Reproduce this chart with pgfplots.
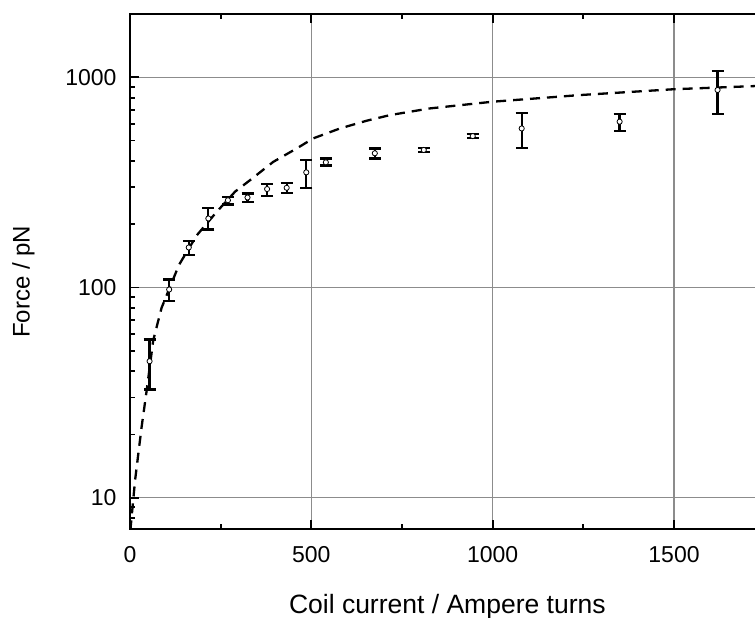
\documentclass[border=0pt]{standalone}
\usepackage{fontspec}
\setmainfont{Liberation Sans}
\usepackage{pgfplots}
\pgfplotsset{compat=1.18}
\begin{document}
\begin{tikzpicture}[x=1pt,y=1pt]
\path[use as bounding box] (0,0) rectangle (755,618);
\clip (0,0) rectangle (755,618);
\begin{axis}[
  at={(130pt,89pt)}, anchor=south west,
  scale only axis, width=634.7pt, height=515pt,
  xmin=0, xmax=1750, ymode=log, ymin=7.1, ymax=2000,
  xtick={0,500,1000,1500}, xticklabels={0,500,1000,1500},
  minor xtick={250,750,1250,1750},
  ytick={10,100,1000}, yticklabels={10,100,1000},
  minor ytick={8,9,20,30,40,50,60,70,80,90,200,300,400,500,600,700,800,900},
  ytick pos=left,
  grid=major, major grid style={black!45, line width=1.2pt},
  minor grid style={draw=none},
  tick align=inside, major tick length=9pt, minor tick length=5pt,
  every tick/.style={black, line width=1.8pt},
  axis line style={line width=2.2pt},
  /pgf/number format/assume math mode=true,
  xticklabel style={font=\fontsize{23}{27}\selectfont, anchor=north, inner sep=0pt, yshift=-17.7pt},
  yticklabel style={font=\fontsize{23}{27}\selectfont, anchor=east, inner sep=0pt, xshift=-13.3pt},
  xlabel={Coil current / Ampere turns},
  ylabel={Force / pN},
  xlabel style={at={(axis description cs:0.5,-0.1637)}, anchor=base, inner sep=0pt, font=\fontsize{26.5}{30}\selectfont},
  ylabel style={at={(axis description cs:-0.186,0.48)}, anchor=north, inner sep=0pt, font=\fontsize{24}{28}\selectfont},
]
\addplot[black, line width=2.3pt, dash pattern=on 10pt off 7pt] coordinates {
(1,7.0) (14,12.1) (32,21.7) (46,32.4) (64,56) (87,80) (135,128) (184,177)
(239,229) (290,286) (331,324) (395,396) (460,459) (505,512) (579,571)
(652,621) (717,661) (827,711) (999,765) (1241,823) (1498,877) (1750,912)
};
\addplot[black, only marks, mark=*, mark size=2.6pt,
  mark options={fill=white, draw=black, line width=0.8pt},
  error bars/.cd, y dir=both, y explicit,
  error bar style={line width=2.3pt, black},
  error mark options={rotate=90, black, mark size=6pt, line width=2.3pt}]
table[x=x, y=y, y error plus=ep, y error minus=em] {
x y ep em
54 44.6 11.9 11.9
108 97.8 11.2 11.8
162 155 12 12.5
216 213 25 24
270 260 10 12
324 268 12 12
378 294 16 22
432 298 15 16
486 353 51 55
540 394 17 14
675 435 24 24
810 451 10 10
945 525 12 12
1080 571 107 109
1350 615 54 58
1620 870 202 201
};
\end{axis}
\end{tikzpicture}
\end{document}
